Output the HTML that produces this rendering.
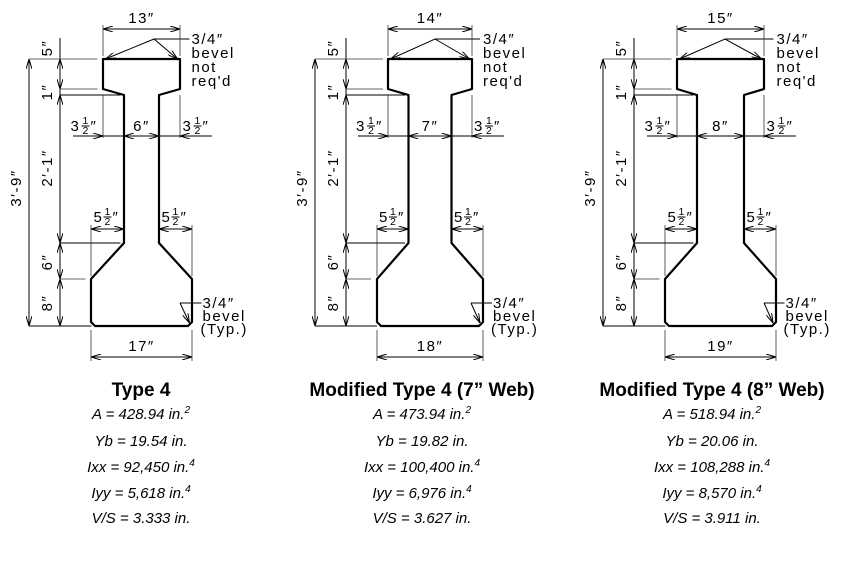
<!DOCTYPE html>
<html><head><meta charset="utf-8"><style>
html,body{margin:0;padding:0;background:#fff;width:850px;height:583px;overflow:hidden}
svg{display:block}
.c{font-family:"Liberation Sans",sans-serif;font-size:15px;fill:#000;letter-spacing:1.5px}
.f{font-family:"Liberation Sans",sans-serif;font-size:10.5px;fill:#000}
.t{font-family:"Liberation Sans",sans-serif;font-size:19px;font-weight:bold;fill:#000;text-anchor:middle}
.p{font-family:"Liberation Sans",sans-serif;font-size:15px;font-style:italic;fill:#000;text-anchor:middle}
.s{stroke:#000;fill:none;stroke-width:2.2;stroke-linejoin:round}
.d{stroke:#000;fill:none;stroke-width:1}
.x{stroke:#333;fill:none;stroke-width:0.8}
</style></head><body>
<svg width="850" height="583" viewBox="0 0 850 583" xmlns="http://www.w3.org/2000/svg">
<defs>
<marker id="a" viewBox="0 0 10 6" refX="10" refY="3" markerWidth="10" markerHeight="6" markerUnits="userSpaceOnUse" orient="auto-start-reverse">
<path d="M0,0 L10,3 L0,6" fill="none" stroke="#000" stroke-width="1"/>
</marker>
</defs>

<!-- Diagram 1 -->
<g transform="translate(141.5,0)">
<path class="s" d="M-38.5,59 H38.5 V89 L17.5,95 V243 L50.5,279 V322 L46.5,326 H-46.5 L-50.5,322 V279 L-17.5,243 V95 L-38.5,89 Z"/>
<polyline class="d" points="-36,59 12.5,39 36,59" marker-start="url(#a)" marker-end="url(#a)"/>
<line class="d" x1="12.5" y1="39" x2="48" y2="39"/>
<text class="c" x="50" y="44">3/4″</text><text class="c" x="50" y="58">bevel</text><text class="c" x="50" y="72">not</text><text class="c" x="50" y="86">req'd</text>
<line class="d" x1="-38.5" y1="29" x2="38.5" y2="29" marker-start="url(#a)" marker-end="url(#a)"/>
<line class="x" x1="-38.5" y1="25" x2="-38.5" y2="56"/><line class="x" x1="38.5" y1="25" x2="38.5" y2="56"/>
<text class="c" x="0" y="23" text-anchor="middle">13″</text>
<line class="d" x1="-81.5" y1="38" x2="-81.5" y2="59"/>
<line class="d" x1="-81.5" y1="59" x2="-81.5" y2="89" marker-start="url(#a)" marker-end="url(#a)"/>
<line class="d" x1="-81.5" y1="89" x2="-81.5" y2="95"/>
<line class="d" x1="-81.5" y1="95" x2="-81.5" y2="243" marker-start="url(#a)" marker-end="url(#a)"/>
<line class="d" x1="-81.5" y1="243" x2="-81.5" y2="279" marker-start="url(#a)" marker-end="url(#a)"/>
<line class="d" x1="-81.5" y1="279" x2="-81.5" y2="326" marker-start="url(#a)" marker-end="url(#a)"/>
<line class="d" x1="-112.5" y1="59" x2="-112.5" y2="326" marker-start="url(#a)" marker-end="url(#a)"/>
<line class="x" x1="-112.5" y1="59" x2="-44" y2="59"/><line class="x" x1="-81.5" y1="89" x2="-44" y2="89"/>
<line class="d" x1="-81.5" y1="95" x2="-21" y2="95"/><line class="d" x1="-81.5" y1="243" x2="-21" y2="243"/>
<line class="x" x1="-81.5" y1="279" x2="-56" y2="279"/><line class="d" x1="-112.5" y1="326" x2="-50" y2="326"/>
<text class="c" transform="translate(-94,48) rotate(-90)" text-anchor="middle" dominant-baseline="central">5″</text>
<text class="c" transform="translate(-94,92) rotate(-90)" text-anchor="middle" dominant-baseline="central">1″</text>
<text class="c" transform="translate(-94,168) rotate(-90)" text-anchor="middle" dominant-baseline="central">2′-1″</text>
<text class="c" transform="translate(-94,262) rotate(-90)" text-anchor="middle" dominant-baseline="central">6″</text>
<text class="c" transform="translate(-94,303) rotate(-90)" text-anchor="middle" dominant-baseline="central">8″</text>
<text class="c" transform="translate(-125,188) rotate(-90)" text-anchor="middle" dominant-baseline="central">3′-9″</text>
<line class="x" x1="-38.5" y1="95" x2="-38.5" y2="138"/><line class="x" x1="38.5" y1="95" x2="38.5" y2="138"/>
<line class="d" x1="-68.5" y1="136" x2="-38.5" y2="136" marker-end="url(#a)"/>
<line class="d" x1="-38.5" y1="136" x2="-17.5" y2="136"/>
<line class="d" x1="-17.5" y1="136" x2="17.5" y2="136" marker-start="url(#a)" marker-end="url(#a)"/>
<line class="d" x1="17.5" y1="136" x2="38.5" y2="136"/>
<line class="d" x1="70.5" y1="136" x2="38.5" y2="136" marker-end="url(#a)"/>
<text class="c" x="-71" y="131">3</text><text class="f" x="-59" y="124">1</text><line class="d" x1="-60" y1="126" x2="-52" y2="126"/><text class="f" x="-59" y="134">2</text><text class="c" x="-51" y="131">″</text>
<text class="c" x="0" y="131" text-anchor="middle">6″</text>
<text class="c" x="41" y="131">3</text><text class="f" x="53" y="124">1</text><line class="d" x1="52" y1="126" x2="60" y2="126"/><text class="f" x="53" y="134">2</text><text class="c" x="61" y="131">″</text>
<line class="x" x1="-50.5" y1="225" x2="-50.5" y2="276"/><line class="x" x1="50.5" y1="225" x2="50.5" y2="276"/>
<line class="d" x1="-50.5" y1="229" x2="-17.5" y2="229" marker-start="url(#a)" marker-end="url(#a)"/>
<line class="d" x1="17.5" y1="229" x2="50.5" y2="229" marker-start="url(#a)" marker-end="url(#a)"/>
<text class="c" x="-48" y="222">5</text><text class="f" x="-37" y="215">1</text><line class="d" x1="-38" y1="217" x2="-30" y2="217"/><text class="f" x="-37" y="225">2</text><text class="c" x="-29" y="222">″</text>
<text class="c" x="20" y="222">5</text><text class="f" x="31" y="215">1</text><line class="d" x1="30" y1="217" x2="38" y2="217"/><text class="f" x="31" y="225">2</text><text class="c" x="39" y="222">″</text>
<line class="x" x1="-50.5" y1="330" x2="-50.5" y2="361"/><line class="x" x1="50.5" y1="330" x2="50.5" y2="361"/>
<line class="d" x1="-50.5" y1="357" x2="50.5" y2="357" marker-start="url(#a)" marker-end="url(#a)"/>
<text class="c" x="0" y="351" text-anchor="middle">17″</text>
<polyline class="d" points="38.5,303 60,303"/><line class="d" x1="38.5" y1="303" x2="48" y2="323" marker-end="url(#a)"/>
<text class="c" x="61" y="308">3/4″</text><text class="c" x="61" y="321">bevel</text><text class="c" x="59" y="334">(Typ.)</text>
</g>

<!-- Diagram 2 -->
<g transform="translate(430,0)">
<path class="s" d="M-42,59 H42 V89 L21.5,95 V243 L53,279 V322 L49,326 H-49 L-53,322 V279 L-21.5,243 V95 L-42,89 Z"/>
<polyline class="d" points="-39.5,59 5,39 39.5,59" marker-start="url(#a)" marker-end="url(#a)"/>
<line class="d" x1="5" y1="39" x2="50" y2="39"/>
<text class="c" x="53" y="44">3/4″</text><text class="c" x="53" y="58">bevel</text><text class="c" x="53" y="72">not</text><text class="c" x="53" y="86">req'd</text>
<line class="d" x1="-42" y1="29" x2="42" y2="29" marker-start="url(#a)" marker-end="url(#a)"/>
<line class="x" x1="-42" y1="25" x2="-42" y2="56"/><line class="x" x1="42" y1="25" x2="42" y2="56"/>
<text class="c" x="0" y="23" text-anchor="middle">14″</text>
<line class="d" x1="-84" y1="38" x2="-84" y2="59"/>
<line class="d" x1="-84" y1="59" x2="-84" y2="89" marker-start="url(#a)" marker-end="url(#a)"/>
<line class="d" x1="-84" y1="89" x2="-84" y2="95"/>
<line class="d" x1="-84" y1="95" x2="-84" y2="243" marker-start="url(#a)" marker-end="url(#a)"/>
<line class="d" x1="-84" y1="243" x2="-84" y2="279" marker-start="url(#a)" marker-end="url(#a)"/>
<line class="d" x1="-84" y1="279" x2="-84" y2="326" marker-start="url(#a)" marker-end="url(#a)"/>
<line class="d" x1="-115" y1="59" x2="-115" y2="326" marker-start="url(#a)" marker-end="url(#a)"/>
<line class="x" x1="-115" y1="59" x2="-47" y2="59"/><line class="x" x1="-84" y1="89" x2="-47" y2="89"/>
<line class="d" x1="-84" y1="95" x2="-25" y2="95"/><line class="d" x1="-84" y1="243" x2="-25" y2="243"/>
<line class="x" x1="-84" y1="279" x2="-59" y2="279"/><line class="d" x1="-115" y1="326" x2="-53" y2="326"/>
<text class="c" transform="translate(-96.5,48) rotate(-90)" text-anchor="middle" dominant-baseline="central">5″</text>
<text class="c" transform="translate(-96.5,92) rotate(-90)" text-anchor="middle" dominant-baseline="central">1″</text>
<text class="c" transform="translate(-96.5,168) rotate(-90)" text-anchor="middle" dominant-baseline="central">2′-1″</text>
<text class="c" transform="translate(-96.5,262) rotate(-90)" text-anchor="middle" dominant-baseline="central">6″</text>
<text class="c" transform="translate(-96.5,303) rotate(-90)" text-anchor="middle" dominant-baseline="central">8″</text>
<text class="c" transform="translate(-127.5,188) rotate(-90)" text-anchor="middle" dominant-baseline="central">3′-9″</text>
<line class="x" x1="-42" y1="95" x2="-42" y2="138"/><line class="x" x1="42" y1="95" x2="42" y2="138"/>
<line class="d" x1="-72" y1="136" x2="-42" y2="136" marker-end="url(#a)"/>
<line class="d" x1="-42" y1="136" x2="-21.5" y2="136"/>
<line class="d" x1="-21.5" y1="136" x2="21.5" y2="136" marker-start="url(#a)" marker-end="url(#a)"/>
<line class="d" x1="21.5" y1="136" x2="42" y2="136"/>
<line class="d" x1="74" y1="136" x2="42" y2="136" marker-end="url(#a)"/>
<text class="c" x="-74" y="131">3</text><text class="f" x="-62" y="124">1</text><line class="d" x1="-63" y1="126" x2="-55" y2="126"/><text class="f" x="-62" y="134">2</text><text class="c" x="-54" y="131">″</text>
<text class="c" x="0" y="131" text-anchor="middle">7″</text>
<text class="c" x="44" y="131">3</text><text class="f" x="56" y="124">1</text><line class="d" x1="55" y1="126" x2="63" y2="126"/><text class="f" x="56" y="134">2</text><text class="c" x="64" y="131">″</text>
<line class="x" x1="-53" y1="225" x2="-53" y2="276"/><line class="x" x1="53" y1="225" x2="53" y2="276"/>
<line class="d" x1="-53" y1="229" x2="-21.5" y2="229" marker-start="url(#a)" marker-end="url(#a)"/>
<line class="d" x1="21.5" y1="229" x2="53" y2="229" marker-start="url(#a)" marker-end="url(#a)"/>
<text class="c" x="-51" y="222">5</text><text class="f" x="-40" y="215">1</text><line class="d" x1="-41" y1="217" x2="-33" y2="217"/><text class="f" x="-40" y="225">2</text><text class="c" x="-32" y="222">″</text>
<text class="c" x="24" y="222">5</text><text class="f" x="35" y="215">1</text><line class="d" x1="34" y1="217" x2="42" y2="217"/><text class="f" x="35" y="225">2</text><text class="c" x="43" y="222">″</text>
<line class="x" x1="-53" y1="330" x2="-53" y2="361"/><line class="x" x1="53" y1="330" x2="53" y2="361"/>
<line class="d" x1="-53" y1="357" x2="53" y2="357" marker-start="url(#a)" marker-end="url(#a)"/>
<text class="c" x="0" y="351" text-anchor="middle">18″</text>
<polyline class="d" points="41,303 62,303"/><line class="d" x1="41" y1="303" x2="50" y2="323" marker-end="url(#a)"/>
<text class="c" x="63" y="308">3/4″</text><text class="c" x="63" y="321">bevel</text><text class="c" x="61" y="334">(Typ.)</text>
</g>

<!-- Diagram 3 -->
<g transform="translate(720.5,0)">
<path class="s" d="M-43.5,59 H43.5 V89 L23.5,95 V243 L55.5,279 V322 L51.5,326 H-51.5 L-55.5,322 V279 L-23.5,243 V95 L-43.5,89 Z"/>
<polyline class="d" points="-41,59 4.5,39 41,59" marker-start="url(#a)" marker-end="url(#a)"/>
<line class="d" x1="4.5" y1="39" x2="53" y2="39"/>
<text class="c" x="56" y="44">3/4″</text><text class="c" x="56" y="58">bevel</text><text class="c" x="56" y="72">not</text><text class="c" x="56" y="86">req'd</text>
<line class="d" x1="-43.5" y1="29" x2="43.5" y2="29" marker-start="url(#a)" marker-end="url(#a)"/>
<line class="x" x1="-43.5" y1="25" x2="-43.5" y2="56"/><line class="x" x1="43.5" y1="25" x2="43.5" y2="56"/>
<text class="c" x="0" y="23" text-anchor="middle">15″</text>
<line class="d" x1="-86.5" y1="38" x2="-86.5" y2="59"/>
<line class="d" x1="-86.5" y1="59" x2="-86.5" y2="89" marker-start="url(#a)" marker-end="url(#a)"/>
<line class="d" x1="-86.5" y1="89" x2="-86.5" y2="95"/>
<line class="d" x1="-86.5" y1="95" x2="-86.5" y2="243" marker-start="url(#a)" marker-end="url(#a)"/>
<line class="d" x1="-86.5" y1="243" x2="-86.5" y2="279" marker-start="url(#a)" marker-end="url(#a)"/>
<line class="d" x1="-86.5" y1="279" x2="-86.5" y2="326" marker-start="url(#a)" marker-end="url(#a)"/>
<line class="d" x1="-117.5" y1="59" x2="-117.5" y2="326" marker-start="url(#a)" marker-end="url(#a)"/>
<line class="x" x1="-117.5" y1="59" x2="-49" y2="59"/><line class="x" x1="-86.5" y1="89" x2="-49" y2="89"/>
<line class="d" x1="-86.5" y1="95" x2="-27" y2="95"/><line class="d" x1="-86.5" y1="243" x2="-27" y2="243"/>
<line class="x" x1="-86.5" y1="279" x2="-61" y2="279"/><line class="d" x1="-117.5" y1="326" x2="-55" y2="326"/>
<text class="c" transform="translate(-99,48) rotate(-90)" text-anchor="middle" dominant-baseline="central">5″</text>
<text class="c" transform="translate(-99,92) rotate(-90)" text-anchor="middle" dominant-baseline="central">1″</text>
<text class="c" transform="translate(-99,168) rotate(-90)" text-anchor="middle" dominant-baseline="central">2′-1″</text>
<text class="c" transform="translate(-99,262) rotate(-90)" text-anchor="middle" dominant-baseline="central">6″</text>
<text class="c" transform="translate(-99,303) rotate(-90)" text-anchor="middle" dominant-baseline="central">8″</text>
<text class="c" transform="translate(-130,188) rotate(-90)" text-anchor="middle" dominant-baseline="central">3′-9″</text>
<line class="x" x1="-43.5" y1="95" x2="-43.5" y2="138"/><line class="x" x1="43.5" y1="95" x2="43.5" y2="138"/>
<line class="d" x1="-73.5" y1="136" x2="-43.5" y2="136" marker-end="url(#a)"/>
<line class="d" x1="-43.5" y1="136" x2="-23.5" y2="136"/>
<line class="d" x1="-23.5" y1="136" x2="23.5" y2="136" marker-start="url(#a)" marker-end="url(#a)"/>
<line class="d" x1="23.5" y1="136" x2="43.5" y2="136"/>
<line class="d" x1="75.5" y1="136" x2="43.5" y2="136" marker-end="url(#a)"/>
<text class="c" x="-76" y="131">3</text><text class="f" x="-64" y="124">1</text><line class="d" x1="-65" y1="126" x2="-57" y2="126"/><text class="f" x="-64" y="134">2</text><text class="c" x="-56" y="131">″</text>
<text class="c" x="0" y="131" text-anchor="middle">8″</text>
<text class="c" x="46" y="131">3</text><text class="f" x="58" y="124">1</text><line class="d" x1="57" y1="126" x2="65" y2="126"/><text class="f" x="58" y="134">2</text><text class="c" x="66" y="131">″</text>
<line class="x" x1="-55.5" y1="225" x2="-55.5" y2="276"/><line class="x" x1="55.5" y1="225" x2="55.5" y2="276"/>
<line class="d" x1="-55.5" y1="229" x2="-23.5" y2="229" marker-start="url(#a)" marker-end="url(#a)"/>
<line class="d" x1="23.5" y1="229" x2="55.5" y2="229" marker-start="url(#a)" marker-end="url(#a)"/>
<text class="c" x="-53" y="222">5</text><text class="f" x="-42" y="215">1</text><line class="d" x1="-43" y1="217" x2="-35" y2="217"/><text class="f" x="-42" y="225">2</text><text class="c" x="-34" y="222">″</text>
<text class="c" x="26" y="222">5</text><text class="f" x="37" y="215">1</text><line class="d" x1="36" y1="217" x2="44" y2="217"/><text class="f" x="37" y="225">2</text><text class="c" x="45" y="222">″</text>
<line class="x" x1="-55.5" y1="330" x2="-55.5" y2="361"/><line class="x" x1="55.5" y1="330" x2="55.5" y2="361"/>
<line class="d" x1="-55.5" y1="357" x2="55.5" y2="357" marker-start="url(#a)" marker-end="url(#a)"/>
<text class="c" x="0" y="351" text-anchor="middle">19″</text>
<polyline class="d" points="43.5,303 64,303"/><line class="d" x1="43.5" y1="303" x2="52.5" y2="323" marker-end="url(#a)"/>
<text class="c" x="65" y="308">3/4″</text><text class="c" x="65" y="321">bevel</text><text class="c" x="63" y="334">(Typ.)</text>
</g>

<!-- Properties -->
<text class="t" x="141" y="396">Type 4</text>
<text class="p" x="141" y="419">A = 428.94 in.<tspan font-size="10" dy="-6">2</tspan></text>
<text class="p" x="141" y="446">Yb = 19.54 in.</text>
<text class="p" x="141" y="472">Ixx = 92,450 in.<tspan font-size="10" dy="-6">4</tspan></text>
<text class="p" x="141" y="498">Iyy = 5,618 in.<tspan font-size="10" dy="-6">4</tspan></text>
<text class="p" x="141" y="523">V/S = 3.333 in.</text>

<text class="t" x="422" y="396">Modified Type 4 (7” Web)</text>
<text class="p" x="422" y="419">A = 473.94 in.<tspan font-size="10" dy="-6">2</tspan></text>
<text class="p" x="422" y="446">Yb = 19.82 in.</text>
<text class="p" x="422" y="472">Ixx = 100,400 in.<tspan font-size="10" dy="-6">4</tspan></text>
<text class="p" x="422" y="498">Iyy = 6,976 in.<tspan font-size="10" dy="-6">4</tspan></text>
<text class="p" x="422" y="523">V/S = 3.627 in.</text>

<text class="t" x="712" y="396">Modified Type 4 (8” Web)</text>
<text class="p" x="712" y="419">A = 518.94 in.<tspan font-size="10" dy="-6">2</tspan></text>
<text class="p" x="712" y="446">Yb = 20.06 in.</text>
<text class="p" x="712" y="472">Ixx = 108,288 in.<tspan font-size="10" dy="-6">4</tspan></text>
<text class="p" x="712" y="498">Iyy = 8,570 in.<tspan font-size="10" dy="-6">4</tspan></text>
<text class="p" x="712" y="523">V/S = 3.911 in.</text>
</svg>
</body></html>
